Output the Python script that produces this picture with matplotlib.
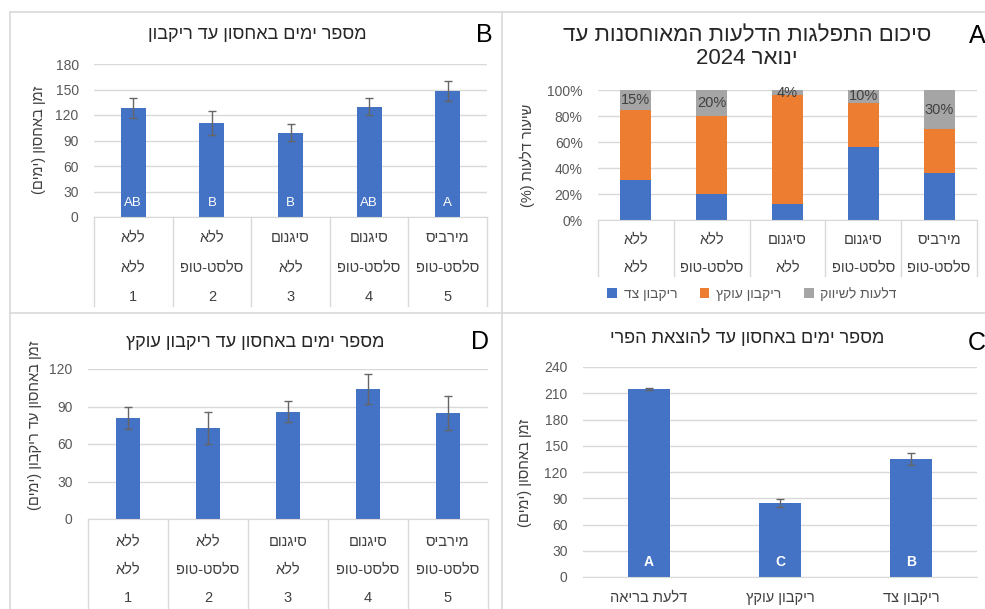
import matplotlib
matplotlib.use("Agg")
import matplotlib.pyplot as plt
from matplotlib.lines import Line2D
from matplotlib.ticker import PercentFormatter, MultipleLocator
import matplotlib.transforms as mtransforms
import numpy as np

plt.rcParams['font.family'] = ['Liberation Sans', 'DejaVu Sans']

# ---- data ----
treat_a = ["ללא", "ללא", "סיגנום", "סיגנום", "מירביס"]
treat_b = ["ללא", "סלסט-טופ", "ללא", "סלסט-טופ", "סלסט-טופ"]
treat_num = ["1", "2", "3", "4", "5"]

# A: distribution of stored pumpkins (%)
side_rot = [31, 20, 12, 56, 36]
stem_rot = [54, 60, 84, 34, 34]
marketable = [15, 20, 4, 10, 30]

# B: days in storage until rot
rot_days = [128, 111, 99, 130, 148]
rot_err = [11.5, 14, 10, 10, 12]
rot_letters = ["AB", "B", "B", "AB", "A"]

# C: days in storage until fruit removal
removal_cats = ["דלעת בריאה", "ריקבון עוקץ", "ריקבון צד"]
removal_days = [215, 85, 135]
removal_err = [1, 4.5, 7]
removal_letters = ["A", "C", "B"]

# D: days in storage until stem rot
stem_days = [81, 73, 86, 104, 85]
stem_err = [9, 13, 8.5, 12, 13.5]

BLUE = "#4472C4"
ORANGE = "#ED7D31"
GRAY = "#A5A5A5"
GRID = "#D9D9D9"
TXT = "#595959"

W, H = 985, 609


def rtl(s):
    """Reverse Hebrew words for left-to-right rendering."""
    swap = str.maketrans("()", ")(")
    out = []
    for w in reversed(s.split(" ")):
        if any("\u0590" <= c <= "\u05ff" for c in w):
            out.append(w[::-1].translate(swap))
        else:
            out.append(w)
    return " ".join(out)


def box(x0, y0, x1, y1):
    return [x0 / W, 1 - y1 / H, (x1 - x0) / W, (y1 - y0) / H]


def fy(y):
    return 1 - y / H


def style_axes(ax, n, ymax, step):
    ax.set_ylim(0, ymax)
    ax.set_xlim(-0.5, n - 0.5)
    ax.yaxis.set_major_locator(MultipleLocator(step))
    ax.yaxis.grid(True, color=GRID, lw=1)
    ax.set_axisbelow(True)
    for s in ["top", "right", "left"]:
        ax.spines[s].set_visible(False)
    ax.spines["bottom"].set_color(GRID)
    ax.tick_params(axis="y", length=0, pad=11, labelsize=10, labelcolor=TXT)
    ax.tick_params(axis="x", length=0, labelbottom=False)


def category_table(ax, rows, row_y, line_top, line_bottom):
    n = len(rows[0])
    tr = mtransforms.blended_transform_factory(ax.transData, fig.transFigure)
    for i in range(n):
        for labels, y in zip(rows, row_y):
            ax.text(i, fy(y), labels[i], transform=tr, ha="center", va="center",
                    fontsize=10.5, color="#404040", clip_on=False)
    for xb in np.arange(-0.5, n, 1.0):
        ax.add_line(Line2D([xb, xb], [fy(line_top), fy(line_bottom)], transform=tr,
                           color=GRID, lw=1, clip_on=False))


fig = plt.figure(figsize=(W / 100, H / 100), dpi=100)
x = np.arange(5)
cat_rows = [[rtl(t) for t in treat_a], [rtl(t) for t in treat_b]]

# ---- panel A: stacked distribution ----
axA = fig.add_axes(box(598, 90, 977, 220))
bA1 = axA.bar(x, side_rot, 0.41, color=BLUE, label=rtl("ריקבון צד"))
bA2 = axA.bar(x, stem_rot, 0.41, bottom=side_rot, color=ORANGE, label=rtl("ריקבון עוקץ"))
base = np.array(side_rot) + np.array(stem_rot)
bA3 = axA.bar(x, marketable, 0.41, bottom=base, color=GRAY, label=rtl("דלעות לשיווק"))
for xi, b, m in zip(x, base, marketable):
    axA.text(xi, b + m / 2, f"{m}%", ha="center", va="center", fontsize=10.5, color="#404040")
style_axes(axA, 5, 100, 20)
axA.yaxis.set_major_formatter(PercentFormatter(decimals=0))
category_table(axA, cat_rows, [240, 268], 220, 276)
axA.legend(handles=[bA1, bA2, bA3], loc="center", ncol=3, frameon=False,
           bbox_to_anchor=(752 / W, fy(294)), bbox_transform=fig.transFigure,
           handlelength=0.7, handleheight=0.7, handletextpad=0.5, columnspacing=1.6,
           fontsize=10, labelcolor=TXT)
fig.text(747 / W, fy(36), rtl("סיכום התפלגות הדלעות המאוחסנות עד"), ha="center",
         va="center", fontsize=16, color="#262626")
fig.text(747 / W, fy(59), rtl("ינואר 2024"), ha="center", va="center",
         fontsize=16, color="#262626")
fig.text(527 / W, fy(155), rtl("שיעור דלעות (%)"), rotation=90, ha="center",
         va="center", fontsize=10.5, color="#404040")

# ---- panel B: days until rot ----
axB = fig.add_axes(box(94, 64, 487, 217))
axB.bar(x, rot_days, 0.32, color=BLUE, yerr=rot_err, capsize=3,
        error_kw=dict(ecolor="#666666", elinewidth=1, capthick=1))
for xi, lab in zip(x, rot_letters):
    axB.annotate(lab, (xi, 0), xytext=(0, 14), textcoords="offset pixels",
                 ha="center", va="center", fontsize=9.5, color="white")
style_axes(axB, 5, 180, 30)
category_table(axB, cat_rows + [treat_num], [238, 268, 297], 217, 306)
fig.text(257 / W, fy(35), rtl("מספר ימים באחסון עד ריקבון"), ha="center",
         va="center", fontsize=13, color="#262626")
fig.text(39 / W, fy(140), rtl("זמן באחסון (ימים)"), rotation=90, ha="center",
         va="center", fontsize=10.5, color="#404040")

# ---- panel C: days until removal ----
axC = fig.add_axes(box(583, 367, 977, 577))
xc = np.arange(len(removal_days))
axC.bar(xc, removal_days, 0.32, color=BLUE, yerr=removal_err, capsize=3,
        error_kw=dict(ecolor="#666666", elinewidth=1, capthick=1))
for xi, lab in zip(xc, removal_letters):
    axC.annotate(lab, (xi, 0), xytext=(0, 15), textcoords="offset pixels",
                 ha="center", va="center", fontsize=10, color="white", fontweight="bold")
style_axes(axC, 3, 240, 30)
trC = mtransforms.blended_transform_factory(axC.transData, fig.transFigure)
for xi, lab in zip(xc, removal_cats):
    axC.text(xi, fy(598), rtl(lab), transform=trC, ha="center", va="center",
             fontsize=10.5, color="#404040")
fig.text(747 / W, fy(338), rtl("מספר ימים באחסון עד להוצאת הפרי"), ha="center",
         va="center", fontsize=13, color="#262626")
fig.text(525 / W, fy(473), rtl("זמן באחסון (ימים)"), rotation=90, ha="center",
         va="center", fontsize=10.5, color="#404040")

# ---- panel D: days until stem rot ----
axD = fig.add_axes(box(88, 369, 488, 519))
axD.bar(x, stem_days, 0.3, color=BLUE, yerr=stem_err, capsize=3,
        error_kw=dict(ecolor="#666666", elinewidth=1, capthick=1))
style_axes(axD, 5, 120, 30)
category_table(axD, cat_rows + [treat_num], [542, 570, 598], 519, 609)
fig.text(255 / W, fy(342), rtl("מספר ימים באחסון עד ריקבון עוקץ"), ha="center",
         va="center", fontsize=13, color="#262626")
fig.text(35 / W, fy(425), rtl("זמן באחסון עד ריקבון (ימים)"), rotation=90,
         ha="center", va="center", fontsize=10.5, color="#404040")

# panel letters
for lab, px, py in [("A", 977, 36), ("B", 484, 35), ("C", 977, 343), ("D", 480, 342)]:
    fig.text(px / W, fy(py), lab, ha="center", va="center", fontsize=18, color="black")

# panel frames
for xs, ys in [([10, 985], [12, 12]), ([10, 985], [313, 313]),
               ([10, 10], [12, 609]), ([502, 502], [12, 609])]:
    fig.add_artist(Line2D([v / W for v in xs], [fy(v) for v in ys],
                          color="#D9D9D9", lw=1.2))

fig.savefig("out.png", dpi=100)
